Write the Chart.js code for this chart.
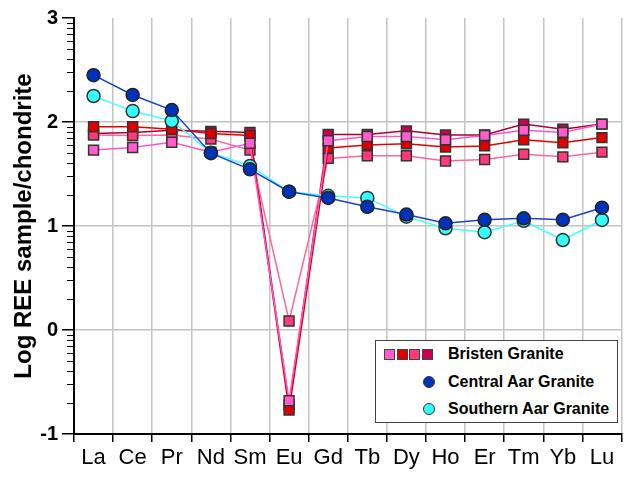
<!DOCTYPE html>
<html>
<head>
<meta charset="utf-8">
<script src="https://cdn.jsdelivr.net/npm/chart.js@4.4.0/dist/chart.umd.min.js"></script>
<style>
  body { margin: 0; overflow: hidden; background: #fff; font-family: "Liberation Sans", Arial, sans-serif; }
  #wrap { position: relative; width: 625px; height: 478px; overflow: hidden; }
  #legend { position: absolute; left: 375px; top: 340px; width: 241px; height: 81px;
            border: 1.5px solid #444; background: #fff; font-weight: bold; font-size: 16px; }
  .row { position: absolute; left: 0; height: 20px; line-height: 20px; white-space: nowrap; }
  .sq { position: absolute; width: 9px; height: 9px; border: 1px solid #444; top: 5px; }
  .dot { position: absolute; width: 10px; height: 10px; border: 1px solid #333; border-radius: 50%; top: 4px; }
  .lbl { position: absolute; left: 72px; }
</style>
</head>
<body>
<div id="wrap">
  <canvas id="chart" width="630" height="478"></canvas>
  <div id="legend"></div>
</div>
<script>
const elements = ["La", "Ce", "Pr", "Nd", "Sm", "Eu", "Gd", "Tb", "Dy", "Ho", "Er", "Tm", "Yb", "Lu"];
const yTicks = [-1, 0, 1, 2, 3];

// Bristen Granite, four samples
const bristenPink    = [1.73, 1.755, 1.805, 1.71, 1.795, -0.68, 1.82, 1.86, 1.86, 1.83, 1.87, 1.92, 1.90, 1.98];
const bristenRed     = [1.955, 1.955, 1.93, 1.89, 1.87, -0.77, 1.75, 1.78, 1.79, 1.76, 1.77, 1.83, 1.80, 1.85];
const bristenRose    = [1.875, 1.87, 1.875, 1.835, 1.73, 0.087, 1.65, 1.675, 1.675, 1.625, 1.64, 1.69, 1.665, 1.71];
const bristenCrimson = [1.89, 1.90, 1.92, 1.91, 1.90, -0.72, 1.88, 1.88, 1.915, 1.875, 1.875, 1.98, 1.93, 1.98];

const centralAar  = [2.45, 2.26, 2.115, 1.70, 1.545, 1.33, 1.27, 1.185, 1.11, 1.026, 1.06, 1.074, 1.06, 1.176];
const southernAar = [2.25, 2.105, 2.01, 1.705, 1.577, 1.33, 1.29, 1.27, 1.09, 0.978, 0.94, 1.05, 0.865, 1.058];

const bristenFill = ["#ff5ccd", "#e00000", "#ff3a7a", "#cc0050"];
const bristenLine = ["#ff55cc", "#e60000", "#ff6699", "#b00030"];
const blueFill = "#0033bb", blueLine = "#1a40cc";
const cyanFill = "#33ffff", cyanLine = "#44ffff";

function bristenSet(data, i) {
    return {
        label: "Bristen Granite",
        data: data,
        borderColor: bristenLine[i],
        borderWidth: 1.5,
        pointStyle: "rect",
        pointRadius: 7,
        pointBackgroundColor: bristenFill[i],
        pointBorderColor: "#333",
        pointBorderWidth: 1.5,
        order: 2 + i,
    };
}

// minor log ticks on the y axis
const minorTicks = {
    id: "minorTicks",
    afterDraw(chart) {
        const y = chart.scales.y;
        const ctx = chart.ctx;
        ctx.save();
        ctx.strokeStyle = "#000";
        ctx.lineWidth = 1;
        for (let n = -1; n < 3; n++) {
            for (let k = 2; k <= 9; k++) {
                const py = Math.round(y.getPixelForValue(n + Math.log10(k))) + 0.5;
                ctx.beginPath();
                ctx.moveTo(y.right - 7, py);
                ctx.lineTo(y.right, py);
                ctx.stroke();
            }
        }
        ctx.restore();
    },
};

new Chart(document.getElementById("chart"), {
    type: "line",
    data: {
        labels: elements,
        datasets: [
            {
                label: "Central Aar Granite",
                data: centralAar,
                borderColor: blueLine,
                borderWidth: 1.5,
                pointRadius: 6.5,
                pointBackgroundColor: blueFill,
                pointBorderColor: "#222",
                pointBorderWidth: 1.5,
                order: 0,
            },
            {
                label: "Southern Aar Granite",
                data: southernAar,
                borderColor: cyanLine,
                borderWidth: 1.5,
                pointRadius: 6.5,
                pointBackgroundColor: cyanFill,
                pointBorderColor: "#333",
                pointBorderWidth: 1.5,
                order: 1,
            },
            bristenSet(bristenPink, 0),
            bristenSet(bristenRed, 1),
            bristenSet(bristenRose, 2),
            bristenSet(bristenCrimson, 3),
        ],
    },
    options: {
        responsive: false,
        animation: false,
        layout: { padding: { top: 18, right: 0, left: 0, bottom: 0 } },
        plugins: {
            legend: { display: false },
            tooltip: { enabled: false },
        },
        elements: { line: { tension: 0 } },
        scales: {
            x: {
                offset: true,
                grid: {
                    offset: true,
                    color: "#c4c4c4",
                    lineWidth: 1.5,
                    tickColor: "#000",
                    tickLength: 8,
                    tickWidth: 1.5,
                },
                border: { color: "#000", width: 2 },
                ticks: {
                    color: "#000",
                    font: { family: "Liberation Sans, Arial", size: 22 },
                    padding: 3,
                    maxRotation: 0,
                    autoSkip: false,
                },
                afterFit(scale) { scale.height = 44; },
            },
            y: {
                min: yTicks[0],
                max: yTicks[yTicks.length - 1],
                afterBuildTicks(scale) { scale.ticks = yTicks.map(v => ({ value: v })); },
                grid: {
                    color: (c) => (c.tick && (c.tick.value === 3 || c.tick.value === -1)) ? "rgba(0,0,0,0)" : "#c4c4c4",
                    lineWidth: 1.5,
                    tickColor: "#000",
                    tickLength: 12,
                    tickWidth: 1.5,
                },
                border: { color: "#000", width: 2 },
                ticks: {
                    color: "#000",
                    font: { family: "Liberation Sans, Arial", size: 20, weight: "bold" },
                    padding: 4,
                },
                title: {
                    display: true,
                    text: "Log REE sample/chondrite",
                    color: "#000",
                    font: { family: "Liberation Sans, Arial", size: 24, weight: "bold" },
                    padding: { top: 10, bottom: 0 },
                },
                afterFit(scale) { scale.width = 74; },
            },
        },
    },
    plugins: [minorTicks],
});

// legend box
const legend = document.getElementById("legend");
let html = '<div class="row" style="top:3px;width:100%">';
bristenFill.forEach((c, i) => {
    html += '<span class="sq" style="left:' + (8 + i * 12.5) + 'px;background:' + c + '"></span>';
});
html += '<span class="lbl">Bristen Granite</span></div>';
html += '<div class="row" style="top:31px;width:100%"><span class="dot" style="left:47px;background:' + blueFill + '"></span><span class="lbl">Central Aar Granite</span></div>';
html += '<div class="row" style="top:58px;width:100%"><span class="dot" style="left:47px;background:' + cyanFill + '"></span><span class="lbl">Southern Aar Granite</span></div>';
legend.innerHTML = html;
</script>
</body>
</html>
